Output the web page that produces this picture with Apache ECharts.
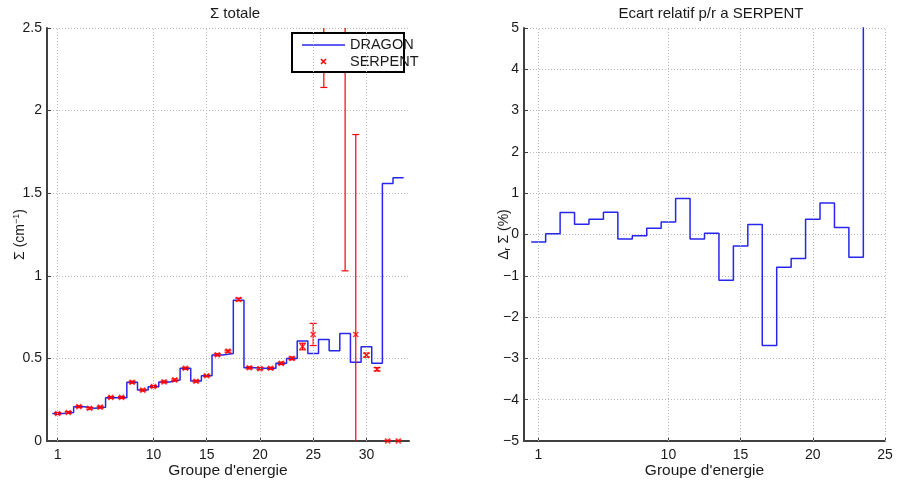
<!DOCTYPE html>
<html><head><meta charset="utf-8">
<script src="https://cdn.jsdelivr.net/npm/echarts@6/dist/echarts.min.js"></script>
<style>html,body{margin:0;padding:0;background:#fff}#c{width:903px;height:486px}</style>
</head><body><div id="c"></div>
<script>
// ---- data ----
const groupsLeft = [1,2,3,4,5,6,7,8,9,10,11,12,13,14,15,16,17,18,19,20,21,22,23,24,25,26,27,28,29,30,31,32,33];
const dragonTotal = [0.167,0.172,0.207,0.198,0.205,0.262,0.262,0.355,0.308,0.328,0.357,0.369,0.440,0.363,0.395,0.520,0.530,0.852,0.443,0.440,0.440,0.470,0.500,0.606,0.530,0.615,0.546,0.651,0.476,0.570,0.470,1.558,1.594];
const serpentTotal = [0.167,0.173,0.208,0.198,0.205,0.264,0.264,0.356,0.308,0.330,0.358,0.370,0.440,0.362,0.395,0.522,0.544,0.857,0.443,0.438,0.440,0.470,0.500,0.572,0.645,2.35,2.35,2.40,0.645,0.520,0.434,0,0];
const serpentErr = [0.005,0.005,0.005,0.005,0.005,0.005,0.005,0.006,0.005,0.005,0.005,0.005,0.006,0.005,0.005,0.006,0.006,0.008,0.006,0.006,0.006,0.007,0.008,0.02,0.067,0.21,0.08,1.37,1.21,0.012,0.01,0.004,0.004];
const groupsRight = [1,2,3,4,5,6,7,8,9,10,11,12,13,14,15,16,17,18,19,20,21,22,23,24];
const ecartRel = [-0.18,0.02,0.53,0.25,0.37,0.54,-0.11,-0.03,0.15,0.30,0.87,-0.11,0.03,-1.11,-0.28,0.24,-2.69,-0.79,-0.58,0.37,0.76,0.17,-0.55,12];
const xTicksLeft = [1,10,15,20,25,30];
const xTicksRight = [1,10,15,20,25];
const titles = ['\u03A3 totale', 'Ecart relatif p/r a SERPENT'];
const xName = "Groupe d'energie";

// ---- helpers ----
function stairs(xs, ys){ const p=[]; xs.forEach((x,i)=>{p.push([x-0.5,ys[i]]);p.push([x+0.5,ys[i]]);}); return p; }
const FONT = "'Liberation Sans', Arial, sans-serif";
const AXC = '#404040';
const TXT = '#1a1a1a';
const BLUE = '#2626ee';
const gridLineStyle = {color:'#b8b8b8', type:[1,2], width:1};
function vGrid(ticks, xi, yi){
  return {type:'line', xAxisIndex:xi, yAxisIndex:yi, data:[], z:1, silent:true,
    markLine:{silent:true, symbol:'none', label:{show:false}, lineStyle:gridLineStyle, animation:false,
      data:ticks.map(t=>({xAxis:t}))}};
}
function xAxis(gi, max, ticks){
  return {type:'value', gridIndex:gi, min:0, max:max, name:xName, nameLocation:'middle', nameGap:22, nameMoveOverlap:false,
    nameTextStyle:{fontFamily:FONT, fontSize:15.5, color:TXT},
    axisLine:{show:true, onZero:false, lineStyle:{color:AXC, width:2}},
    axisTick:{show:true, inside:true, length:4, customValues:ticks, lineStyle:{color:AXC}},
    axisLabel:{customValues:ticks, fontFamily:FONT, fontSize:14, color:TXT, margin:7},
    splitLine:{show:false}};
}
const chart = echarts.init(document.getElementById('c'), null, {renderer:'canvas'});
const errData = groupsLeft.map((g,i)=>[g, serpentTotal[i], serpentErr[i]]);
const xPath = 'path://M0,0L10,10M10,0L0,10';
chart.setOption({
  animation:false,
  backgroundColor:'#fff',
  title:[
    {text:titles[0], left:230, top:1, textAlign:'center', textStyle:{fontFamily:FONT, fontSize:15, fontWeight:'normal', color:TXT}},
    {text:titles[1], left:706, top:1, textAlign:'center', textStyle:{fontFamily:FONT, fontSize:15, fontWeight:'normal', color:TXT}}
  ],
  grid:[
    {left:47, width:362, top:28, bottom:45},
    {left:524, width:361, top:28, bottom:45}
  ],
  xAxis:[ xAxis(0, 34, xTicksLeft), xAxis(1, 25, xTicksRight) ],
  yAxis:[
    {type:'value', gridIndex:0, min:0, max:2.5, interval:0.5, name:'\u03A3 (cm{sup|\u22121})', nameLocation:'middle', nameGap:19, nameMoveOverlap:false,
      nameTextStyle:{fontFamily:FONT, fontSize:14, color:TXT, rich:{sup:{fontFamily:FONT, fontSize:9, verticalAlign:'top', color:TXT, padding:[0,0,7,0]}}},
      axisLine:{show:true, lineStyle:{color:AXC, width:2}},
      axisTick:{show:true, inside:true, length:4, lineStyle:{color:AXC}},
      axisLabel:{fontFamily:FONT, fontSize:14, color:TXT, margin:5},
      splitLine:{show:true, lineStyle:gridLineStyle}},
    {type:'value', gridIndex:1, min:-5, max:5, interval:1, name:'\u0394{sub|r} \u03A3 (%)', nameLocation:'middle', nameGap:12, nameMoveOverlap:false,
      nameTextStyle:{fontFamily:FONT, fontSize:14, color:TXT, rich:{sub:{fontFamily:FONT, fontSize:9, color:TXT, padding:[7,0,0,0]}}},
      axisLine:{show:true, lineStyle:{color:AXC, width:2}},
      axisTick:{show:true, inside:true, length:4, lineStyle:{color:AXC}},
      axisLabel:{fontFamily:FONT, fontSize:14, color:TXT, margin:5, formatter:v=>String(v).replace('-','\u2212')},
      splitLine:{show:true, lineStyle:gridLineStyle}}
  ],
  legend:{orient:'vertical', left:302, top:37.5, itemWidth:43, itemHeight:8, itemGap:1.5, padding:0, z:5,
    textStyle:{fontFamily:FONT, fontSize:14.5, color:TXT},
    data:[
      {name:'DRAGON', icon:'path://M0,0L43,0L43,1.5L0,1.5Z', itemStyle:{color:BLUE, borderWidth:0}},
      {name:'SERPENT', icon:'path://M-3,-3M13,13M0,0L10,10M10,0L0,10', itemStyle:{color:'#ff0000', borderColor:'#ff0000', borderWidth:1.5}}
    ]},
  graphic:[{type:'rect', z:4, shape:{x:292, y:33, width:112, height:39}, style:{fill:'#fff', stroke:'#000', lineWidth:2}}],
  series:[
    vGrid(xTicksLeft, 0, 0),
    vGrid(xTicksRight, 1, 1),
    {name:'DRAGON', type:'line', xAxisIndex:0, yAxisIndex:0, data:stairs(groupsLeft, dragonTotal), symbol:'none', showSymbol:false, clip:true,
      lineStyle:{color:BLUE, width:1.5}, itemStyle:{color:BLUE}, z:2},
    {name:'SERPENT', type:'custom', xAxisIndex:0, yAxisIndex:0, data:errData, z:3, clip:true,
      renderItem:function(params, api){
        const x=api.value(0), y=api.value(1), e=api.value(2);
        const lo=y-e, hi=y+e, loC=Math.max(lo,0), hiC=Math.min(hi,2.5);
        if (hiC < loC) return null;
        const a=api.coord([x,loC]), b=api.coord([x,hiC]);
        const st={stroke:'#ff0000', lineWidth:1.2};
        const ch=[{type:'line', shape:{x1:a[0],y1:a[1],x2:b[0],y2:b[1]}, style:st}];
        const w=3.5;
        if (lo>=0){const p=api.coord([x,lo]); ch.push({type:'line', shape:{x1:p[0]-w,y1:p[1],x2:p[0]+w,y2:p[1]}, style:st});}
        if (hi<=2.5){const p=api.coord([x,hi]); ch.push({type:'line', shape:{x1:p[0]-w,y1:p[1],x2:p[0]+w,y2:p[1]}, style:st});}
        return {type:'group', children:ch};
      }},
    {name:'SERPENT', type:'scatter', xAxisIndex:0, yAxisIndex:0, data:groupsLeft.map((g,i)=>[g, serpentTotal[i]]), z:3, clip:true,
      symbol:xPath, symbolSize:5, itemStyle:{color:'#ff0000', borderColor:'#ff0000', borderWidth:1.5}},
    {name:'Ecart', type:'line', xAxisIndex:1, yAxisIndex:1, data:stairs(groupsRight, ecartRel), symbol:'none', clip:true,
      lineStyle:{color:BLUE, width:1.5}, z:2}
  ]
});
</script></body></html>
